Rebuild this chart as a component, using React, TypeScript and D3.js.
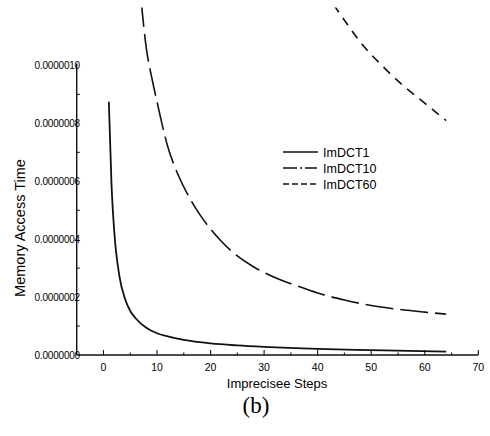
import React, { useEffect, useRef } from "react";
import * as d3 from "d3";

// Imprecise steps vs memory access time
const dct1X = [1, 1.5, 2, 3, 4, 5, 6, 8, 10, 12, 15, 20, 25, 30, 40, 50, 64];
const dct1Y = [0.875, 0.59, 0.43, 0.27, 0.195, 0.152, 0.127, 0.094, 0.075, 0.064, 0.052, 0.04, 0.033, 0.028, 0.021, 0.017, 0.012];

const dct10X = [7, 8, 9, 10, 12, 14, 16, 18, 20, 22, 25, 28, 32, 36, 40, 45, 50, 55, 60, 64];
const dct10Y = [1.23, 1.06, 0.96, 0.875, 0.72, 0.62, 0.545, 0.485, 0.435, 0.393, 0.342, 0.305, 0.268, 0.24, 0.214, 0.19, 0.171, 0.158, 0.148, 0.141];

const dct60X = [43, 46, 48, 52, 56, 60, 64];
const dct60Y = [1.21, 1.13, 1.08, 1.0, 0.93, 0.87, 0.81];

const seriesNames = ["ImDCT1", "ImDCT10", "ImDCT60"];
const seriesDash = ["none", "28,7", "9,7"];

const xTicks = [0, 10, 20, 30, 40, 50, 60, 70];
const yTicks = [0, 0.2e-6, 0.4e-6, 0.6e-6, 0.8e-6, 1.0e-6];
const yTickLabels = ["0.0000000", "0.0000002", "0.0000004", "0.0000006", "0.0000008", "0.0000010"];

const FONT = "'Liberation Sans', Arial, sans-serif";

const App = () => {
  const svgRef = useRef<SVGSVGElement>(null);

  useEffect(() => {
    const svg = d3.select(svgRef.current);
    svg.selectAll("*").remove();

    const x = d3.scaleLinear().domain([-5, 70]).range([76.7, 478.3]);
    const y = d3.scaleLinear().domain([0, 1e-6]).range([355, 65.5]);

    svg
      .append("defs")
      .append("clipPath")
      .attr("id", "plot-clip")
      .append("rect")
      .attr("x", x(-5))
      .attr("y", y(1.2e-6))
      .attr("width", x(70) - x(-5))
      .attr("height", y(0) - y(1.2e-6));

    // axes
    svg
      .append("line")
      .attr("x1", x(-5))
      .attr("x2", x(70))
      .attr("y1", y(0))
      .attr("y2", y(0))
      .attr("stroke", "#111")
      .attr("stroke-width", 1.4);
    svg
      .append("line")
      .attr("x1", x(-5))
      .attr("x2", x(-5))
      .attr("y1", y(0))
      .attr("y2", y(1e-6) - 2)
      .attr("stroke", "#111")
      .attr("stroke-width", 1.4);

    // x ticks, major every 10, minor every 5
    d3.range(0, 71, 5).forEach((v) => {
      const major = v % 10 === 0;
      svg
        .append("line")
        .attr("x1", x(v))
        .attr("x2", x(v))
        .attr("y1", y(0))
        .attr("y2", y(0) - (major ? 5 : 2.5))
        .attr("stroke", "#111")
        .attr("stroke-width", 1.1);
    });
    svg
      .selectAll(".xt")
      .data(xTicks)
      .enter()
      .append("text")
      .attr("x", (d) => x(d))
      .attr("y", 371)
      .attr("text-anchor", "middle")
      .attr("font-family", FONT)
      .attr("font-size", 10.5)
      .text((d) => d);

    // y minor ticks halfway between labels
    d3.range(0, 5).forEach((i) => {
      const v = (i + 0.5) * 0.2e-6;
      svg
        .append("line")
        .attr("x1", x(-5))
        .attr("x2", x(-5) + 3)
        .attr("y1", y(v))
        .attr("y2", y(v))
        .attr("stroke", "#111")
        .attr("stroke-width", 1.1);
    });
    svg
      .selectAll(".yt")
      .data(yTicks)
      .enter()
      .append("text")
      .attr("x", 80)
      .attr("y", (d) => y(d) + 3.5)
      .attr("text-anchor", "end")
      .attr("font-family", FONT)
      .attr("font-size", 10)
      .attr("letter-spacing", -0.2)
      .text((d, i) => yTickLabels[i]);

    // curves
    const line = d3
      .line<[number, number]>()
      .x((d) => x(d[0]))
      .y((d) => y(d[1] * 1e-6))
      .curve(d3.curveMonotoneX);

    const allX = [dct1X, dct10X, dct60X];
    const allY = [dct1Y, dct10Y, dct60Y];
    const g = svg.append("g").attr("clip-path", "url(#plot-clip)");
    allX.forEach((xs, i) => {
      const pts = xs.map((v, j) => [v, allY[i][j]] as [number, number]);
      g.append("path")
        .attr("d", line(pts))
        .attr("fill", "none")
        .attr("stroke", "#111")
        .attr("stroke-width", i === 0 ? 1.8 : 1.6)
        .attr("stroke-dasharray", seriesDash[i]);
    });

    // legend
    const leg = svg.append("g").attr("transform", "translate(283,152)");
    seriesNames.forEach((name, i) => {
      leg
        .append("line")
        .attr("x1", 0)
        .attr("x2", 35)
        .attr("y1", i * 16)
        .attr("y2", i * 16)
        .attr("stroke", "#111")
        .attr("stroke-width", 1.4)
        .attr("stroke-dasharray", i === 0 ? "none" : i === 1 ? "14,3,2,3,12" : "6,3");
      leg
        .append("text")
        .attr("x", 40)
        .attr("y", i * 16 + 4.5)
        .attr("font-family", FONT)
        .attr("font-size", 12.5)
        .text(name);
    });

    // axis titles
    svg
      .append("text")
      .attr("x", 277)
      .attr("y", 388)
      .attr("text-anchor", "middle")
      .attr("font-family", FONT)
      .attr("font-size", 13)
      .text("Imprecisee Steps");
    svg
      .append("text")
      .attr("transform", "translate(25,228) rotate(-90)")
      .attr("text-anchor", "middle")
      .attr("font-family", FONT)
      .attr("font-size", 14.5)
      .text("Memory Access Time");
    svg
      .append("text")
      .attr("x", 256)
      .attr("y", 413)
      .attr("text-anchor", "middle")
      .attr("font-family", "'Liberation Serif', 'Times New Roman', serif")
      .attr("font-size", 23)
      .text("(b)");
  }, []);

  return (
    <svg
      ref={svgRef}
      width={490}
      height={436}
      style={{ position: "absolute", left: 0, top: 0, background: "#fff" }}
    ></svg>
  );
};

export default App;
